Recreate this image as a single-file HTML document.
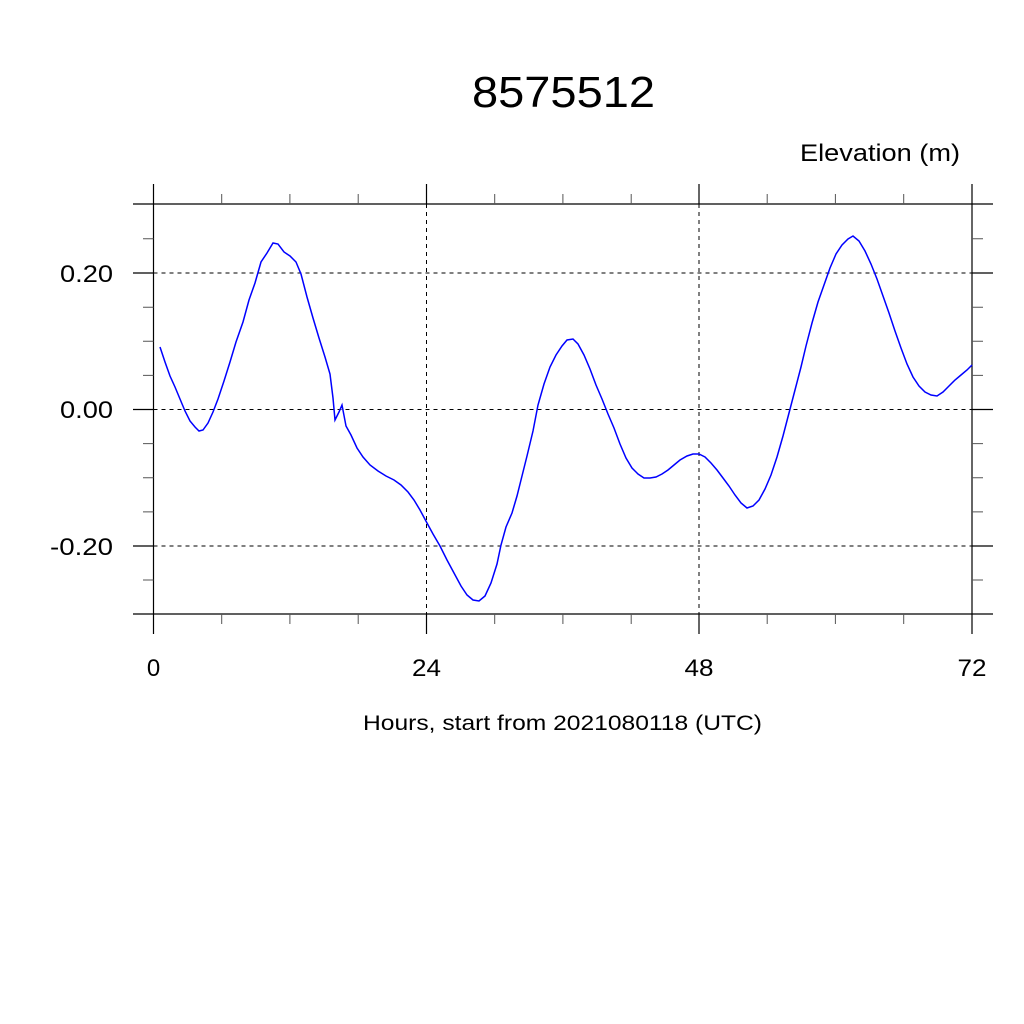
<!DOCTYPE html>
<html><head><style>html,body{margin:0;padding:0;background:#fff;}svg{display:block}</style></head>
<body>
<svg width="1024" height="1024" xmlns="http://www.w3.org/2000/svg" font-family="Liberation Sans, sans-serif">
<rect width="1024" height="1024" fill="#fff"/>
<text x="472" y="107" font-size="44" textLength="183" lengthAdjust="spacingAndGlyphs">8575512</text>
<text x="800" y="161" font-size="24" textLength="160" lengthAdjust="spacingAndGlyphs">Elevation (m)</text>
<g stroke="#000" stroke-width="1" stroke-dasharray="4,4" fill="none">
<line x1="153.5" y1="273" x2="972" y2="273"/>
<line x1="153.5" y1="409.5" x2="972" y2="409.5"/>
<line x1="153.5" y1="546" x2="972" y2="546"/>
<line x1="426.5" y1="204" x2="426.5" y2="614"/>
<line x1="699" y1="204" x2="699" y2="614"/>
</g>
<g stroke="#000" stroke-width="1.2" fill="none">
<line x1="133" y1="204" x2="993" y2="204"/>
<line x1="133" y1="614" x2="993" y2="614"/>
<line x1="153.5" y1="184" x2="153.5" y2="634"/>
<line x1="972" y1="184" x2="972" y2="634"/>
<line x1="426.5" y1="184" x2="426.5" y2="204"/><line x1="426.5" y1="614" x2="426.5" y2="634"/>
<line x1="699" y1="184" x2="699" y2="204"/><line x1="699" y1="614" x2="699" y2="634"/>
<line x1="133" y1="273" x2="153.5" y2="273"/><line x1="972" y1="273" x2="993" y2="273"/>
<line x1="133" y1="409.5" x2="153.5" y2="409.5"/><line x1="972" y1="409.5" x2="993" y2="409.5"/>
<line x1="133" y1="546" x2="153.5" y2="546"/><line x1="972" y1="546" x2="993" y2="546"/>
</g>
<g stroke="#555" stroke-width="1" fill="none">
<path d="M221.7 194V204M289.9 194V204M358.2 194V204M494.7 194V204M562.9 194V204M631.2 194V204M767.2 194V204M835.4 194V204M903.7 194V204"/>
<path d="M221.7 614V624M289.9 614V624M358.2 614V624M494.7 614V624M562.9 614V624M631.2 614V624M767.2 614V624M835.4 614V624M903.7 614V624"/>
<path d="M143 238.8H153.5M143 307.2H153.5M143 341.3H153.5M143 375.4H153.5M143 443.6H153.5M143 477.7H153.5M143 511.9H153.5M143 580H153.5"/>
<path d="M972 238.8H983M972 307.2H983M972 341.3H983M972 375.4H983M972 443.6H983M972 477.7H983M972 511.9H983M972 580H983"/>
</g>
<g font-size="24">
<text x="60" y="282" textLength="53" lengthAdjust="spacingAndGlyphs">0.20</text>
<text x="60" y="418" textLength="53" lengthAdjust="spacingAndGlyphs">0.00</text>
<text x="50" y="555" textLength="63" lengthAdjust="spacingAndGlyphs">-0.20</text>
</g>
<g font-size="24" text-anchor="middle">
<text x="153.5" y="676">0</text>
<text x="426.5" y="676" textLength="29" lengthAdjust="spacingAndGlyphs">24</text>
<text x="699" y="676" textLength="29" lengthAdjust="spacingAndGlyphs">48</text>
<text x="972" y="676" textLength="29" lengthAdjust="spacingAndGlyphs">72</text>
</g>
<text x="363" y="730" font-size="21" textLength="399" lengthAdjust="spacingAndGlyphs">Hours, start from 2021080118 (UTC)</text>
<polyline fill="none" stroke="#0000ff" stroke-width="1.5" points="160,347 165,362 170,376 175,387 180,399 185,411 190,421 195,427 199,431 203,430 208,423 213,412 218,399 224,381 230,362 236,342 243,322 249,300 255,283 261,262 267,253 273,243 278,244 284,252 290,256 296,262 301,274 307,297 313,318 319,338 325,357 330,374 333,398 335,420 339,412 342,405 346,426 351,435 357,448 363,457 370,465 378,471 386,476 394,480 401,485 408,492 414,500 420,510 427,523 433,534 440,546 447,560 454,573 461,586 467,595 473,600 479,601 485,596 491,583 497,564 501,545 506,527 512,513 517,496 522,476 527,456 533,431 538,405 544,384 550,367 556,355 562,346 567,340 573,339 578,344 584,355 590,369 596,385 602,399 608,414 614,428 620,444 626,458 632,468 638,474 644,478 650,478 656,477 662,474 668,470 674,465 680,460 687,456 693,454 699,454 705,457 711,463 717,470 723,478 729,486 735,495 741,503 747,508 753,506 759,500 765,489 771,475 777,457 783,436 789,413 795,390 801,367 806,346 812,323 818,302 824,285 830,268 836,254 842,245 848,239 853,236 859,241 865,251 871,264 877,279 883,296 889,313 895,331 901,348 907,364 913,377 919,386 925,392 931,395 937,396 943,392 949,386 955,380 961,375 967,370 972,365"/>
</svg>
</body></html>
